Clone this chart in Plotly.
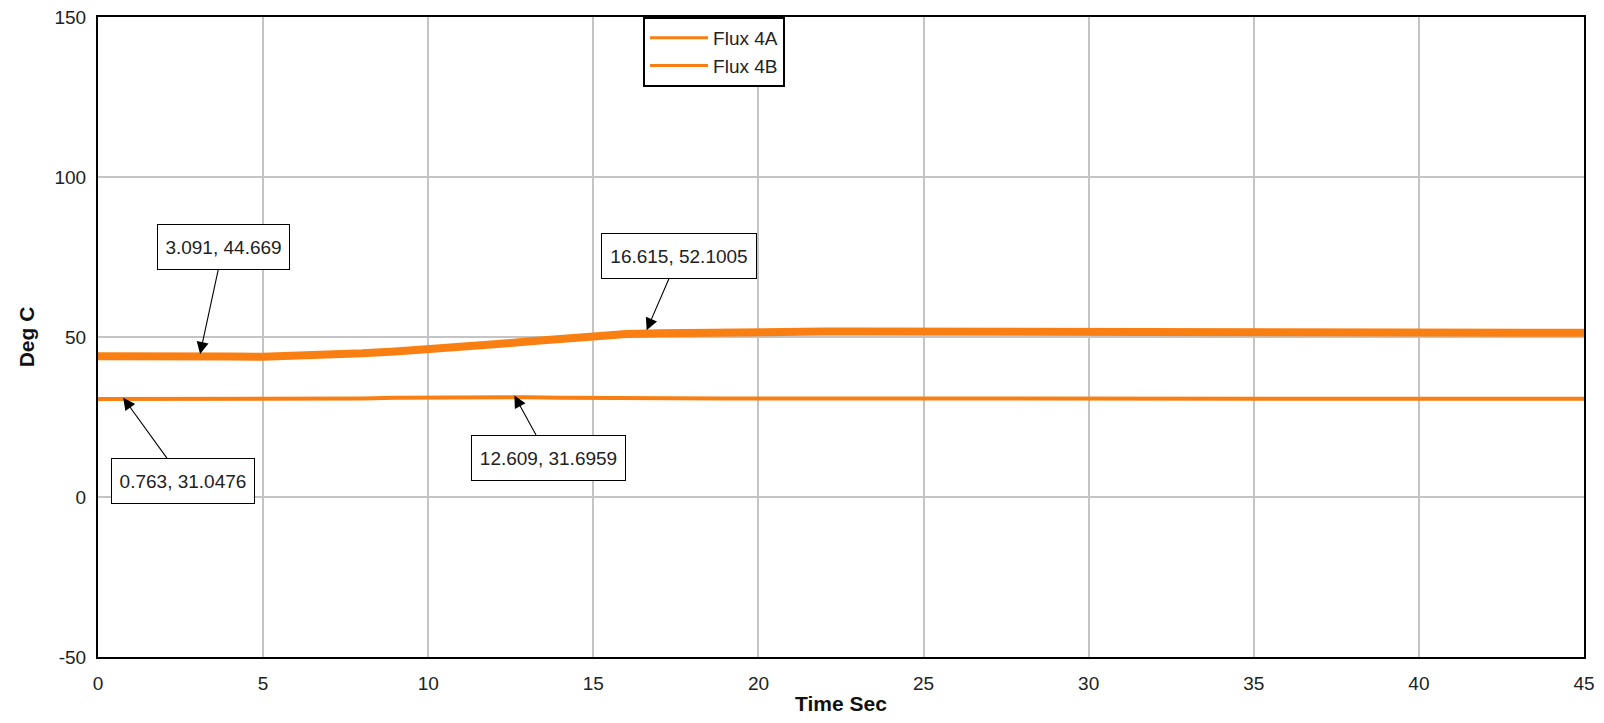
import plotly.graph_objects as go

# ---- data ----
time_s = list(range(0, 46))
flux_4a = [44.0, 44.1, 44.0, 44.2, 43.9, 43.8, 44.0, 44.3, 44.9, 45.5,
           46.1, 46.9, 47.7, 48.6, 49.5, 50.3, 50.9, 51.2, 51.4, 51.5,
           51.5, 51.6, 51.7, 51.7, 51.7, 51.7, 51.7, 51.7, 51.6, 51.6,
           51.6, 51.6, 51.5, 51.5, 51.5, 51.5, 51.5, 51.4, 51.4, 51.4,
           51.4, 51.4, 51.3, 51.3, 51.4, 51.3]
flux_4b = [30.6, 30.6, 30.5, 30.5, 30.5, 30.5, 30.6, 30.7, 30.8, 31.0,
           31.1, 31.2, 31.3, 31.2, 31.0, 30.9, 30.8, 30.8, 30.8, 30.8,
           30.8, 30.8, 30.8, 30.8, 30.8, 30.8, 30.8, 30.8, 30.8, 30.8,
           30.8, 30.8, 30.8, 30.8, 30.8, 30.8, 30.8, 30.8, 30.8, 30.8,
           30.8, 30.8, 30.8, 30.8, 30.8, 30.7]

series_names = ["Flux 4A", "Flux 4B"]

callout_x = [3.091, 16.615, 0.763, 12.609]
callout_y = [44.669, 52.1005, 31.0476, 31.6959]
callout_text = ["3.091, 44.669", "16.615, 52.1005", "0.763, 31.0476", "12.609, 31.6959"]

x_ticks = [0, 5, 10, 15, 20, 25, 30, 35, 40, 45]
y_ticks = [-50, 0, 50, 100, 150]

# ---- styling ----
ORANGE = "#FA7F12"
FONT = "Liberation Sans, Arial, sans-serif"

fig = go.Figure()
fig.add_trace(go.Scatter(x=time_s, y=flux_4a, mode="lines", name=series_names[0],
                         line=dict(color=ORANGE, width=8), showlegend=False))
fig.add_trace(go.Scatter(x=time_s, y=flux_4b, mode="lines", name=series_names[1],
                         line=dict(color=ORANGE, width=4), showlegend=False))
# legend entries (thin swatches like the reference)
for nm in series_names:
    fig.add_trace(go.Scatter(x=[None], y=[None], mode="lines", name=nm,
                             line=dict(color=ORANGE, width=3), showlegend=True))

# callout offsets (pixels) and box sizes
ax_off = [23, 32, 60, 34]
ay_off = [-107, -74, 83, 62]
box_w = [129, 152, 140, 151]
for i in range(len(callout_x)):
    fig.add_annotation(x=callout_x[i], y=callout_y[i], text=callout_text[i],
                       xref="x", yref="y", showarrow=True,
                       ax=ax_off[i], ay=ay_off[i],
                       arrowhead=2, arrowsize=2.2, arrowwidth=1.1, arrowcolor="black",
                       font=dict(family=FONT, size=19, color="#222"),
                       bgcolor="white", bordercolor="black", borderwidth=1,
                       borderpad=1, width=box_w[i], height=42)

# page body has an 8px default margin, so the figure is sized/offset to compensate
fig.update_layout(
    width=1596, height=715,
    margin=dict(l=90, r=20, t=9, b=66),
    paper_bgcolor="white", plot_bgcolor="white",
    font=dict(family=FONT, size=19, color="#222"),
    showlegend=True,
    legend=dict(x=0.3668, y=1.0, xanchor="left", yanchor="top",
                bgcolor="white", bordercolor="black", borderwidth=2,
                font=dict(family=FONT, size=19, color="#222"),
                tracegroupgap=0, itemwidth=58),
    xaxis=dict(range=[0, 45], tickvals=x_ticks, ticktext=[str(v) for v in x_ticks],
               automargin=False, ticklabeloverflow="allow",
               showgrid=True, gridcolor="#c4c4c4", gridwidth=1.5,
               zeroline=False, showline=True, linecolor="black", linewidth=2, mirror=True,
               ticks="outside", ticklen=8, tickcolor="rgba(0,0,0,0)",
               tickfont=dict(family=FONT, size=19, color="#222"),
               title=dict(text="<b>Time Sec</b>", font=dict(family=FONT, size=21, color="#111"),
                          standoff=4)),
    yaxis=dict(range=[-50, 150], tickvals=y_ticks, ticktext=[str(v) for v in y_ticks],
               automargin=False, ticklabeloverflow="allow",
               showgrid=True, gridcolor="#c4c4c4", gridwidth=1.5,
               zeroline=False, showline=True, linecolor="black", linewidth=2, mirror=True,
               ticks="outside", ticklen=6, tickcolor="rgba(0,0,0,0)",
               tickfont=dict(family=FONT, size=19, color="#222"),
               title=dict(text="<b>Deg C</b>", font=dict(family=FONT, size=21, color="#111"),
                          standoff=14)),
)

fig.write_html("out.html")
